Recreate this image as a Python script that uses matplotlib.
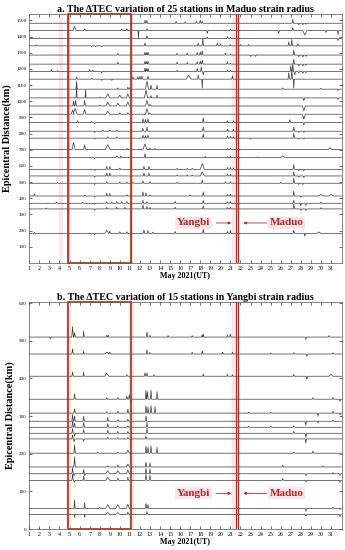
import matplotlib
matplotlib.use('Agg')
from matplotlib import pyplot as plt
from matplotlib.patches import Rectangle

plt.rcParams['font.family'] = ['Liberation Serif', 'DejaVu Serif']

# ---- data ----
days = list(range(1, 32))

# panel a: Maduo strain radius, epicentral distance (km) of each station
dist_a = [1483, 1438, 1388, 1343, 1286, 1230, 1184, 1137, 1075, 1021, 971, 920,
          868, 815, 772, 701, 651, 579, 538, 493, 414, 369, 334, 183]
# anomalies per station: (day, height in km units[, half width in days])
peaks_a = [
    [(12.5, 18), (12.7, 18), (15.6, 12), (16.5, 9), (17.6, 12), (18.0, 18), (18.2, 12),
     (27.2, 25), (27.8, -9), (28.2, -9), (28.5, -6)],
    [(5.5, 25, 0.15), (6.5, 9), (10.2, 9), (10.7, 12), (11.85, -50, 0.05), (12.7, 12),
     (18.7, -18), (21.0, 9), (25.8, -18), (27.2, 18), (28.4, -28, 0.2), (30.5, -12), (31.7, -25)],
    [(1.3, 6), (2.0, 5), (12.7, 18), (18.7, 9), (20.7, 12), (21.0, 9), (31.7, -12)],
    [(1.7, 6), (7.2, -6), (7.6, -6), (8.2, -6), (12.5, 18), (17.8, 18), (18.25, 45),
     (19.7, 18), (20.0, 12), (21.0, 8), (22.0, 8), (22.8, 8), (26.8, 25), (27.1, 40), (27.7, 12)],
    [(9.8, 12), (12.5, 18), (12.65, 15), (12.8, 18), (15.7, 12), (16.7, 12), (17.7, 15),
     (18.0, 20), (18.2, 25), (20.5, 12), (21.0, 6), (23.0, -8), (23.5, -8), (27.3, 30),
     (27.8, -10), (28.2, -12), (28.5, -8)],
    [(9.8, 12), (12.5, 18), (12.65, 15), (12.8, 18), (15.7, 12), (16.7, 10), (17.7, 15),
     (18.0, 20), (18.2, 25), (20.7, 12), (21.0, 6), (27.3, 30), (27.8, -10), (28.2, -12), (28.5, -8)],
    [(3.2, 12), (3.8, 6), (4.8, -8), (7.0, 12), (7.3, 10), (8.2, -8), (12.5, 22), (12.65, 18),
     (12.8, 22), (15.7, 8), (17.7, 18), (18.1, 30), (18.3, -20), (20.7, 10), (21.0, 8),
     (27.0, 35), (27.2, 50), (27.4, -20), (27.8, -10), (28.2, -12), (28.5, -8)],
    [(5.7, 12), (7.2, 6), (8.2, -8), (9.2, -8), (11.3, 15), (11.8, 15), (12.0, 18), (12.2, 18),
     (12.8, 18), (16.85, 25, 0.25), (17.8, 25), (18.2, -55, 0.05), (21.2, 20), (26.8, 40),
     (27.1, 60), (27.3, -55, 0.05)],
    [(5.7, 50, 0.06), (9.8, 8), (10.8, 12), (11.0, 10), (12.7, 50, 0.15), (13.1, 25),
     (13.7, 25, 0.05), (26.2, 8), (30.0, 6), (31.7, -8)],
    [(5.7, 75, 0.05), (6.6, 50, 0.05), (8.0, 6), (8.8, 25, 0.2), (10.0, 18, 0.15),
     (10.8, 25, 0.15), (12.6, 50, 0.15), (13.1, 15), (13.7, 18, 0.05), (28.3, -18), (31.7, -10)],
    [(5.4, 30), (5.6, 35), (6.5, 35, 0.08), (8.0, 6), (8.8, 25, 0.2), (9.8, 18, 0.15),
     (10.8, 25, 0.15), (12.7, 35, 0.15), (13.0, 10), (28.3, -30, 0.15)],
    [(5.3, 25, 0.15), (5.55, 35, 0.2), (6.5, 30, 0.12), (8.8, 18, 0.2), (10.0, 10), (10.8, 10),
     (12.7, 35, 0.15), (13.0, 8), (28.3, -30, 0.15)],
    [(5.8, 12), (7.2, 6), (7.5, -6), (12.3, 25), (12.55, 20), (12.8, 25), (18.3, 30),
     (20.7, 12), (21.3, 12), (26.9, 18), (28.3, -15)],
    [(7.5, -8), (8.3, 6), (9.0, 6), (9.7, 6), (12.3, 18), (12.7, 25), (18.3, 25), (20.7, 10),
     (21.3, 10), (27.3, 25), (27.8, -8), (28.3, -8)],
    [(7.5, -6), (8.8, 8), (9.7, 8), (12.3, 18), (12.55, 15), (12.8, 18), (18.3, 25), (20.7, 12),
     (21.0, 10), (21.3, 8), (23.0, -6), (27.3, 30), (27.8, -6), (28.3, -6)],
    [(5.4, 45, 0.15), (6.5, 30, 0.1), (8.8, 30, 0.25), (10.7, 8), (12.5, 35, 0.2), (13.0, 10),
     (13.5, 8), (20.7, 8), (21.0, 8), (30.9, 12, 0.2)],
    [(7.5, -6), (9.7, 12, 0.15), (10.1, 12), (12.5, 25), (18.5, 8), (20.7, 6), (21.0, 8),
     (23.7, 5), (26.2, 12, 0.2)],
    [(7.5, -8), (8.7, 18), (9.0, 18), (10.0, 8), (12.4, 18), (12.9, 18), (15.7, 6), (16.7, 6),
     (17.2, 6), (18.2, 35, 0.2), (20.7, 12), (21.0, 12), (21.3, 8), (27.3, 30), (27.8, -8), (28.3, -10)],
    [(7.5, -8), (8.7, 18), (9.0, 18), (12.4, 18), (12.9, 18), (15.7, 6), (16.7, 6), (17.2, 6),
     (18.2, 25, 0.2), (20.7, 12), (21.0, 12), (27.3, 25), (27.8, -8), (28.3, -10)],
    [(3.8, 6), (7.5, -8), (8.7, 10), (10.0, 8), (10.7, 8), (11.3, 6), (12.3, 15), (13.0, 10),
     (15.7, 6), (18.2, 20), (20.5, 10), (21.0, 10), (26.0, 6), (27.3, 30), (27.8, -8), (28.2, -8)],
    [(1.5, 12), (6.5, 6), (7.5, -8), (8.7, 18), (9.0, 15), (10.7, 8), (12.3, 25), (12.6, 20),
     (13.0, 8), (17.0, 6), (18.3, 25), (20.7, 10), (21.0, 10), (27.3, 30), (28.0, -8),
     (30.0, 10, 0.2), (31.0, 10, 0.2)],
    [(3.7, 8), (6.3, 6), (7.5, -8), (8.7, 10), (9.2, 8), (9.7, 10), (10.2, 10), (10.7, 10),
     (12.3, 18), (12.7, 10), (15.5, 12), (18.3, 18), (20.7, 10), (21.0, 12), (27.3, 18),
     (28.0, -15), (28.5, -12), (30.0, 8)],
    [(2.7, 6), (7.5, -8), (8.7, 10), (9.7, 10), (10.5, 10), (12.3, 25), (12.7, 15), (13.0, 10),
     (15.5, 10), (18.3, 18), (20.7, 10), (21.0, 12), (27.3, 30), (28.0, -10), (28.5, -10), (30.0, 8)],
    [(1.5, 6), (7.5, -8), (8.7, 18, 0.2), (9.0, 15), (10.0, 10), (10.7, 10), (12.4, 20),
     (12.8, 18), (13.3, 8), (15.5, 12), (18.3, 25), (20.7, 12), (21.0, 18), (27.3, 18),
     (28.4, -18), (29.8, 8, 0.2)],
]

# panel b: Yangbi strain radius
dist_b = [510, 465, 406, 345, 308, 286.5, 270.5, 254.5, 239.5, 201.6, 165, 147, 129.5, 55, 39]
peaks_b = [
    [(3.1, -5), (5.3, 28, 0.08), (5.5, 12), (6.4, 16, 0.05), (8.7, 5), (8.85, 5), (12.7, 14),
     (13.0, 5), (14.8, 4), (17.2, 4), (18.2, 6), (18.3, 8), (20.7, 6), (21.0, 8), (28.5, -6), (30.8, 4)],
    [(5.3, 14), (6.4, 8, 0.05), (8.7, 5, 0.2), (9.0, 5), (12.7, 11), (13.0, 4), (17.2, 5),
     (18.2, 8), (20.2, 5), (21.2, 5), (25.0, 3), (27.3, 4), (28.6, -6), (31.2, 4)],
    [(5.3, 11), (6.4, 11, 0.05), (8.7, 8, 0.2), (10.7, 4), (12.5, 9), (12.7, 9), (13.4, 4),
     (18.3, 6), (20.7, 5), (21.2, 4), (27.3, 5), (28.6, -8), (31.0, 5, 0.2)],
    [(5.5, 14), (8.7, 4), (9.8, 5), (10.7, 8), (10.95, 12), (11.1, -10), (12.6, 24),
     (12.75, 20), (13.1, 24), (13.7, 20, 0.05), (29.2, 4), (31.2, 5), (31.9, -6)],
    [(5.5, 11), (8.7, 4), (9.8, 5), (10.8, 10), (12.6, 20), (12.8, 16), (13.1, 20),
     (13.5, 18, 0.05), (22.8, 3), (25.0, 3), (29.7, -8), (31.2, 5), (31.9, -5)],
    [(5.3, 18), (5.5, 14), (6.4, 13), (8.8, 10), (9.8, 4), (10.8, 5), (12.6, 14), (28.5, -11),
     (29.7, -5), (31.2, 3)],
    [(5.3, 16), (5.5, 12), (6.4, 13), (8.8, 10), (9.8, 4), (10.8, 4), (12.7, 13), (22.8, 3),
     (25.0, 3), (27.3, 4)],
    [(5.3, 13), (5.5, -8), (6.4, 10), (8.8, 8), (9.8, 5), (10.8, 5), (12.7, 13), (27.3, 5), (28.5, -11)],
    [(5.3, 10), (5.45, -8), (6.4, -6), (8.8, 4), (9.8, 3), (10.8, 3), (12.6, 8), (28.5, -11)],
    [(5.5, 22), (7.8, 3), (9.8, 3), (10.8, 8, 0.15), (12.6, 19), (12.8, 16), (13.1, 19),
     (13.7, 16, 0.05), (27.3, 3), (29.2, 6)],
    [(5.5, 27), (8.8, 3), (9.8, 5), (10.8, 8, 0.15), (12.6, 13), (13.0, 11), (26.2, 5), (30.2, 3)],
    [(5.3, 16), (5.45, -6), (6.4, 11), (6.5, -5), (8.8, 8, 0.2), (9.8, 8, 0.2), (10.8, 10, 0.15),
     (12.6, 14), (13.0, 13), (28.5, -5), (31.2, 3), (31.9, -4)],
    [(5.3, 16), (5.5, -5), (6.4, 11), (8.8, 8, 0.2), (9.8, 6), (10.8, 8), (12.6, 16), (13.0, 14),
     (26.2, 5), (28.5, -4), (31.9, -5)],
    [(5.5, 22, 0.05), (6.5, 16, 0.05), (8.0, 3), (8.8, 10, 0.2), (9.8, 10, 0.2), (10.8, 11, 0.15),
     (12.6, 13), (12.8, 10), (28.5, -8), (31.2, 3), (31.9, -3)],
    [(5.5, -8, 0.05), (6.5, -8, 0.05), (8.8, 5, 0.2), (9.8, 5, 0.2), (10.8, 6), (12.7, 8),
     (28.5, -4), (31.9, -6)],
]

box_days = (4.88, 11.1)      # highlighted period
yangbi_day, maduo_day = 21.55, 21.8

red = '#e3242b'
brown = '#9a4a2c'
dark_red = '#b0281e'
trace_c = '#3a3a3a'


def draw_trace(ax, base, peaks):
    xs, ys = [1.0], [base]
    for p in sorted(peaks):
        d, h = p[0], p[1]
        w = p[2] if len(p) > 2 else 0.07
        xs += [d - w, d, d + w]
        ys += [base, base + h, base]
    xs.append(32.05)
    ys.append(base)
    ax.plot(xs, ys, color=trace_c, lw=0.5, zorder=3)


def style_axes(ax, yticks, ylim, title):
    ax.set_xlim(1, 32.05)
    ax.set_ylim(*ylim)
    ax.set_xticks(days)
    ax.set_yticks(yticks)
    ax.tick_params(axis='both', direction='in', top=True, right=True,
                   length=2, width=0.4, pad=2)
    ax.tick_params(axis='x', labelsize=4.3)
    ax.tick_params(axis='y', labelsize=3.6)
    for s in ax.spines.values():
        s.set_linewidth(0.5)
        s.set_color('#555555')
    ax.set_title(title, fontsize=7.2, fontweight='bold', pad=1.5)
    ax.set_xlabel('May 2021(UT)', fontsize=5.8, fontweight='bold', labelpad=1)
    ax.set_ylabel('Epicentral Distance(km)', fontsize=7.4, fontweight='bold', labelpad=3)


def draw_events(ax, ylim, ytext):
    ax.axvspan(21.15, 21.95, color='#fbd3e0', alpha=0.6, lw=0, zorder=1)
    ax.axvline(yangbi_day, color=dark_red, lw=0.8, zorder=4)
    ax.axvline(maduo_day, color=dark_red, lw=0.8, zorder=4)
    bb = dict(boxstyle='square,pad=0.15', fc='#fde4ec', ec='none')
    ax.text(17.3, ytext, 'Yangbi', color=dark_red, fontsize=8, fontweight='bold',
            ha='center', va='center', bbox=bb, zorder=5)
    ax.text(26.6, ytext, 'Maduo', color=dark_red, fontsize=8, fontweight='bold',
            ha='center', va='center', bbox=bb, zorder=5)
    ap = dict(arrowstyle='-|>', color=dark_red, lw=0.6, mutation_scale=4)
    ax.annotate('', xy=(yangbi_day - 0.2, ytext), xytext=(19.3, ytext),
                arrowprops=ap, zorder=5)
    ax.annotate('', xy=(maduo_day + 0.2, ytext), xytext=(24.9, ytext),
                arrowprops=ap, zorder=5)


fig = plt.figure(figsize=(3.45, 5.5), dpi=100)
ax_a = fig.add_axes([0.085, 0.522, 0.905, 0.4525])
ax_b = fig.add_axes([0.085, 0.038, 0.905, 0.4135])

# ---- panel a ----
ylim_a = (0, 1540)
ax_a.axvspan(4.0, 4.3, color='#f6dcef', alpha=0.7, lw=0, zorder=1)
for base, pk in zip(dist_a, peaks_a):
    draw_trace(ax_a, base, pk)
ax_a.add_patch(Rectangle((box_days[0], 0), box_days[1] - box_days[0], ylim_a[1],
                         fill=False, ec=brown, lw=1.3, zorder=4, clip_on=False))
ax_a.axvline(box_days[0], color=red, lw=1.0, zorder=5)
ax_a.axvline(box_days[1], color=red, lw=1.0, zorder=5)
draw_events(ax_a, ylim_a, 247)
style_axes(ax_a, range(100, 1501, 100), ylim_a,
           'a. The \u0394TEC variation of 25 stations in Maduo strain radius')

# ---- panel b ----
ylim_b = (0, 604)
for base, pk in zip(dist_b, peaks_b):
    draw_trace(ax_b, base, pk)
for d in box_days:
    ax_b.axvline(d, color='#f7c6da', lw=3.5, alpha=0.6, zorder=2)
ax_b.add_patch(Rectangle((box_days[0], 0), box_days[1] - box_days[0], ylim_b[1],
                         fill=False, ec=brown, lw=1.3, zorder=4, clip_on=False))
draw_events(ax_b, ylim_b, 95)
style_axes(ax_b, range(0, 601, 100), ylim_b,
           'b. The \u0394TEC variation of 15 stations in Yangbi strain radius')

fig.savefig('out.png', dpi=100)
